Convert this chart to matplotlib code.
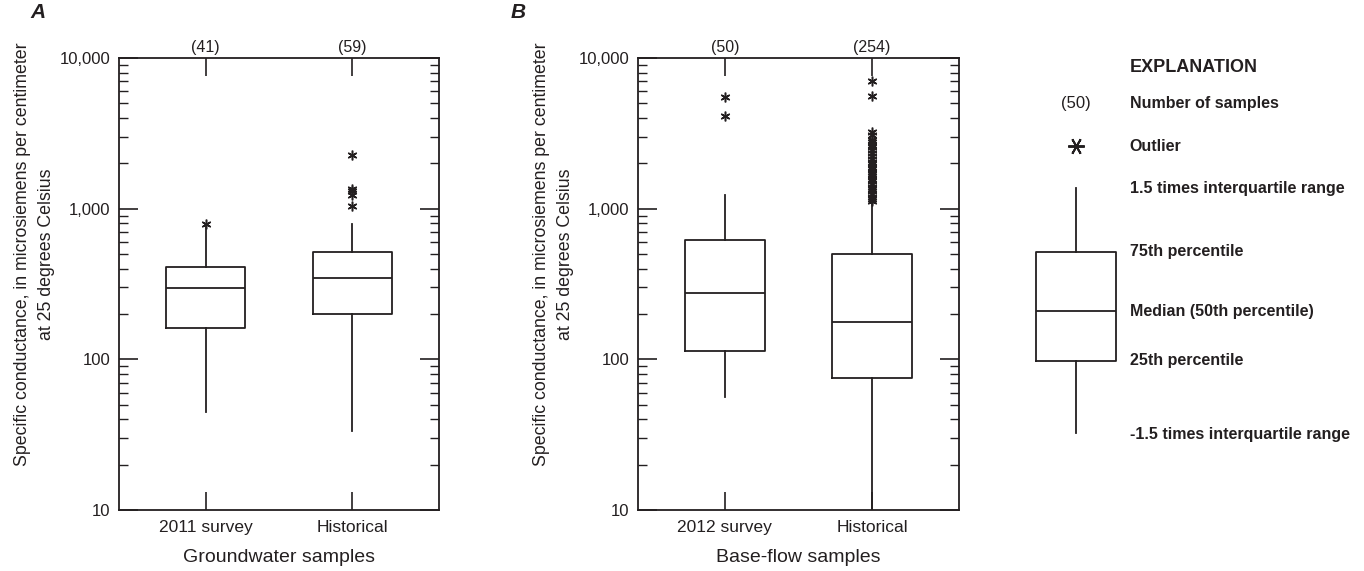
import matplotlib.pyplot as plt
from matplotlib.ticker import LogLocator, NullFormatter

plt.rcParams['font.family'] = ['DejaVu Sans Condensed', 'Liberation Sans Narrow',
                               'Liberation Sans']

# Groundwater samples (panel A)
gw_labels = ['2011 survey', 'Historical']
gw_counts = [41, 59]
gw_q1 = [161, 200]
gw_med = [296, 345]
gw_q3 = [410, 518]
gw_lo = [44.5, 33.4]
gw_hi = [780, 790]
gw_out = [[790], [2270, 1360, 1300, 1230, 1045]]

# Base-flow samples (panel B)
bf_labels = ['2012 survey', 'Historical']
bf_counts = [50, 254]
bf_q1 = [114, 75.2]
bf_med = [277, 178]
bf_q3 = [617, 498]
bf_lo = [56.5, 10]
bf_hi = [1233, 1140]
bf_out = [[5480, 4140],
          [7070, 5600, 3240, 3080, 2860, 2750, 2650, 2550, 2450, 2350, 2250,
           2150, 2050, 1980, 1900, 1830, 1760, 1700, 1640, 1580, 1520, 1460,
           1400, 1350, 1300, 1250, 1200, 1160, 1120]]

# schematic box for the explanation
key_stats = {'whislo': 17.0, 'q1': 33.0, 'med': 44.0, 'q3': 57.1, 'whishi': 71.2}
key_labels = ['1.5 times interquartile range', '75th percentile',
              'Median (50th percentile)', '25th percentile',
              '-1.5 times interquartile range']
key_levels = [71.2, 57.1, 44.0, 33.0, 16.6]

ink = '#231f20'
ylabel = ('Specific conductance, in microsiemens per centimeter\n'
          'at 25 degrees Celsius')

fig = plt.figure(figsize=(13.64, 5.71), dpi=100)


def draw_panel(ax, labels, counts, q1, med, q3, lo, hi, out, xlabel):
    stats = []
    for i in range(len(labels)):
        stats.append({'label': labels[i], 'q1': q1[i], 'med': med[i],
                      'q3': q3[i], 'whislo': lo[i], 'whishi': hi[i],
                      'fliers': out[i]})
    line = dict(color=ink, lw=1.3)
    ax.bxp(stats, positions=[1, 2], widths=0.54, showcaps=False,
           boxprops=line, whiskerprops=line, medianprops=line,
           flierprops=dict(marker=(6, 2, 0), markersize=7, markeredgecolor=ink,
                           markeredgewidth=1.1, linestyle='none'))
    ax.set_yscale('log')
    ax.set_ylim(10, 10000)
    ax.set_xlim(0.41, 2.59)
    ax.set_yticks([10, 100, 1000, 10000], labels=['10', '100', '1,000', '10,000'])
    ax.yaxis.set_minor_locator(LogLocator(base=10, subs=range(2, 10)))
    ax.yaxis.set_minor_formatter(NullFormatter())
    ax.tick_params(axis='y', which='major', direction='in', length=13.5,
                   width=1.2, right=True, labelsize=12, pad=6, colors=ink)
    ax.tick_params(axis='y', which='minor', direction='in', length=6.5,
                   width=1.0, right=True, colors=ink)
    ax.tick_params(axis='x', direction='in', length=13, width=1.2, top=True,
                   labelsize=12.5, pad=7, colors=ink)
    for s in ax.spines.values():
        s.set_linewidth(1.3)
        s.set_color(ink)
    for i, n in enumerate(counts):
        ax.annotate(f'({n})', xy=(i + 1, 1), xycoords=('data', 'axes fraction'),
                    xytext=(0, 2), textcoords='offset points', ha='center',
                    va='bottom', fontsize=11.5, color=ink)
    ax.set_xlabel(xlabel, fontsize=14, color=ink, labelpad=10)
    ax.set_ylabel(ylabel, fontsize=12.8, color=ink, linespacing=1.55)
    ax.yaxis.set_label_coords(-0.2, 0.565)


ax_a = fig.add_axes([119 / 1364, 61 / 571, 320 / 1364, 452 / 571])
draw_panel(ax_a, gw_labels, gw_counts, gw_q1, gw_med, gw_q3, gw_lo, gw_hi,
           gw_out, 'Groundwater samples')
ax_b = fig.add_axes([638 / 1364, 61 / 571, 321 / 1364, 452 / 571])
draw_panel(ax_b, bf_labels, bf_counts, bf_q1, bf_med, bf_q3, bf_lo, bf_hi,
           bf_out, 'Base-flow samples')

fig.text(38 / 1364, 1 - 12 / 571, 'A', fontsize=15, weight='bold',
         style='italic', ha='center', va='center', color=ink)
fig.text(518 / 1364, 1 - 12 / 571, 'B', fontsize=15, weight='bold',
         style='italic', ha='center', va='center', color=ink)

# explanation
ax_k = fig.add_axes([960 / 1364, 61 / 571, 404 / 1364, 452 / 571])
ax_k.set_xlim(0, 1)
ax_k.set_ylim(0, 100)
ax_k.axis('off')
line = dict(color=ink, lw=1.3)
ax_k.bxp([dict(key_stats, fliers=[])], positions=[0.287], widths=0.198,
         showcaps=False, showfliers=False, boxprops=line, whiskerprops=line,
         medianprops=line, manage_ticks=False)
ax_k.plot([0.287], [80.5], marker=(6, 2, 90), markersize=12,
          markeredgecolor=ink, markeredgewidth=1.4, linestyle='none')
ax_k.text(0.287, 90.0, '(50)', fontsize=12, ha='center', va='center', color=ink)
ax_k.text(0.42, 97.8, 'EXPLANATION', fontsize=13, weight='bold',
          ha='left', va='center', color=ink)
ax_k.text(0.42, 90.0, 'Number of samples', fontsize=11.5, weight='bold',
          ha='left', va='center', color=ink)
ax_k.text(0.42, 80.5, 'Outlier', fontsize=11.5, weight='bold',
          ha='left', va='center', color=ink)
for lab, lev in zip(key_labels, key_levels):
    ax_k.text(0.42, lev, lab, fontsize=11.5, weight='bold',
              ha='left', va='center', color=ink)

fig.savefig('out.png', dpi=100)
